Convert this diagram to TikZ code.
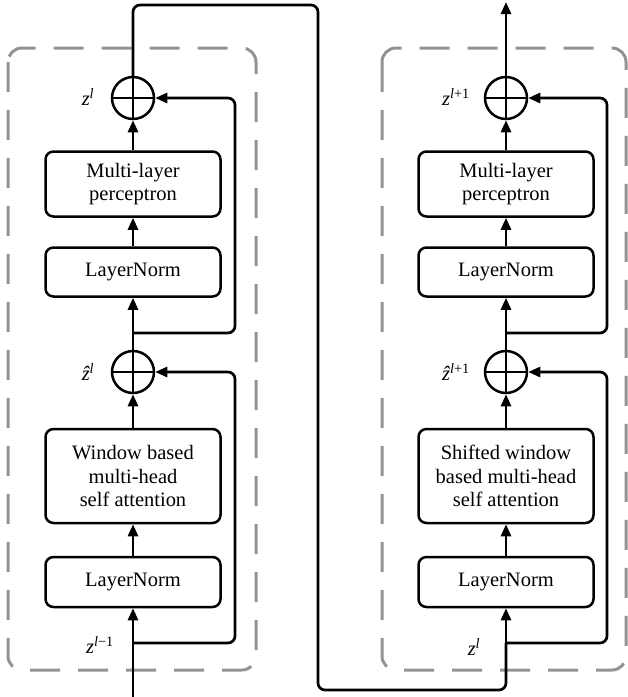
\documentclass[tikz,border=0pt]{standalone}
\usepackage{fontspec}
\setmainfont{Liberation Serif}
\usetikzlibrary{arrows.meta}

\begin{document}
\begin{tikzpicture}[x=1pt, y=-1pt,
    every node/.style={font=\fontsize{20.5}{23.5}\selectfont},
    block/.style={draw, line width=2.5pt, rounded corners=8pt, align=center,
      minimum width=175pt, inner sep=0pt},
    addop/.style={draw, circle, line width=2.5pt, minimum size=42pt, inner sep=0pt},
    flow/.style={line width=2.7pt, rounded corners=7pt, -{Triangle[length=12pt, width=10pt]}},
    wire/.style={line width=2.7pt, rounded corners=7pt},
    stage/.style={draw=gray!85, line width=3pt, dash pattern=on 30pt off 18pt,
      rounded corners=14pt},
    lbl/.style={inner sep=0pt}]
  \useasboundingbox (0,0) rectangle (628,697);

  % dashed frames
  \draw[stage] (8,48) rectangle (256,670);
  \draw[stage] (382,48) rectangle (626,670);

  % window block
  \node[block, minimum height=50pt] (lnA) at (133,582) {LayerNorm};
  \node[block, minimum height=94pt] (wmsa) at (133,476) {Window based\\multi-head\\self attention};
  \node[addop] (addA) at (133,372) {};
  \node[block, minimum height=49pt] (lnB) at (133,272) {LayerNorm};
  \node[block, minimum height=65pt] (mlpA) at (133,184) {Multi-layer\\perceptron};
  \node[addop] (addB) at (133,98) {};

  % shifted window block
  \node[block, minimum height=50pt] (lnC) at (506,582) {LayerNorm};
  \node[block, minimum height=94pt] (swmsa) at (506,476) {Shifted window\\based multi-head\\self attention};
  \node[addop] (addC) at (506,372) {};
  \node[block, minimum height=49pt] (lnD) at (506,272) {LayerNorm};
  \node[block, minimum height=65pt] (mlpB) at (506,184) {Multi-layer\\perceptron};
  \node[addop] (addD) at (506,98) {};

  % labels
  \node[lbl] (zA) at (88,97) {\itshape z\textsuperscript{l}};
  \node[lbl] (zhA) at (88,372) {\itshape \^{z}\textsuperscript{l}};
  \node[lbl] (zin) at (100,645) {\itshape z\textsuperscript{l\upshape −1}};
  \node[lbl] (zB) at (456,97) {\itshape z\textsuperscript{l\upshape +1}};
  \node[lbl] (zhB) at (456,372) {\itshape \^{z}\textsuperscript{l\upshape +1}};
  \node[lbl] (zmid) at (474,647) {\itshape z\textsuperscript{l}};

  % plus signs
  \foreach \a in {addA,addB,addC,addD} {
    \draw[line width=2.5pt] (\a.west) -- (\a.east);
    \draw[line width=2.5pt] (\a.north) -- (\a.south);
  }

  \coordinate (in) at (133,697);
  \coordinate (brA) at (133,643);
  \coordinate (brB) at (133,333);
  \coordinate (brC) at (506,643);
  \coordinate (brD) at (506,333);
  \coordinate (out) at (506,2);
  \coordinate (skipL) at (235,0);
  \coordinate (skipR) at (607,0);

  % main path, left
  \draw[flow] (in) -- (lnA.south);
  \draw[flow] (lnA.north) -- (wmsa.south);
  \draw[flow] (wmsa.north) -- (addA.south);
  \draw[flow] (addA.north) -- (lnB.south);
  \draw[flow] (lnB.north) -- (mlpA.south);
  \draw[flow] (mlpA.north) -- (addB.south);
  \draw[flow] (brA) -| (skipL |- addA.east) -- (addA.east);
  \draw[flow] (brB) -| (skipL |- addB.east) -- (addB.east);

  % link between blocks
  \draw[wire] (addB.north) -- (133,5) -- (318,5) -- (318,690) -- (506,690) -- (brC);
  \draw[flow] (brC) -- (lnC.south);

  % main path, right
  \draw[flow] (lnC.north) -- (swmsa.south);
  \draw[flow] (swmsa.north) -- (addC.south);
  \draw[flow] (addC.north) -- (lnD.south);
  \draw[flow] (lnD.north) -- (mlpB.south);
  \draw[flow] (mlpB.north) -- (addD.south);
  \draw[flow] (addD.north) -- (out);
  \draw[flow] (brC) -| (skipR |- addC.east) -- (addC.east);
  \draw[flow] (brD) -| (skipR |- addD.east) -- (addD.east);
\end{tikzpicture}
\end{document}
